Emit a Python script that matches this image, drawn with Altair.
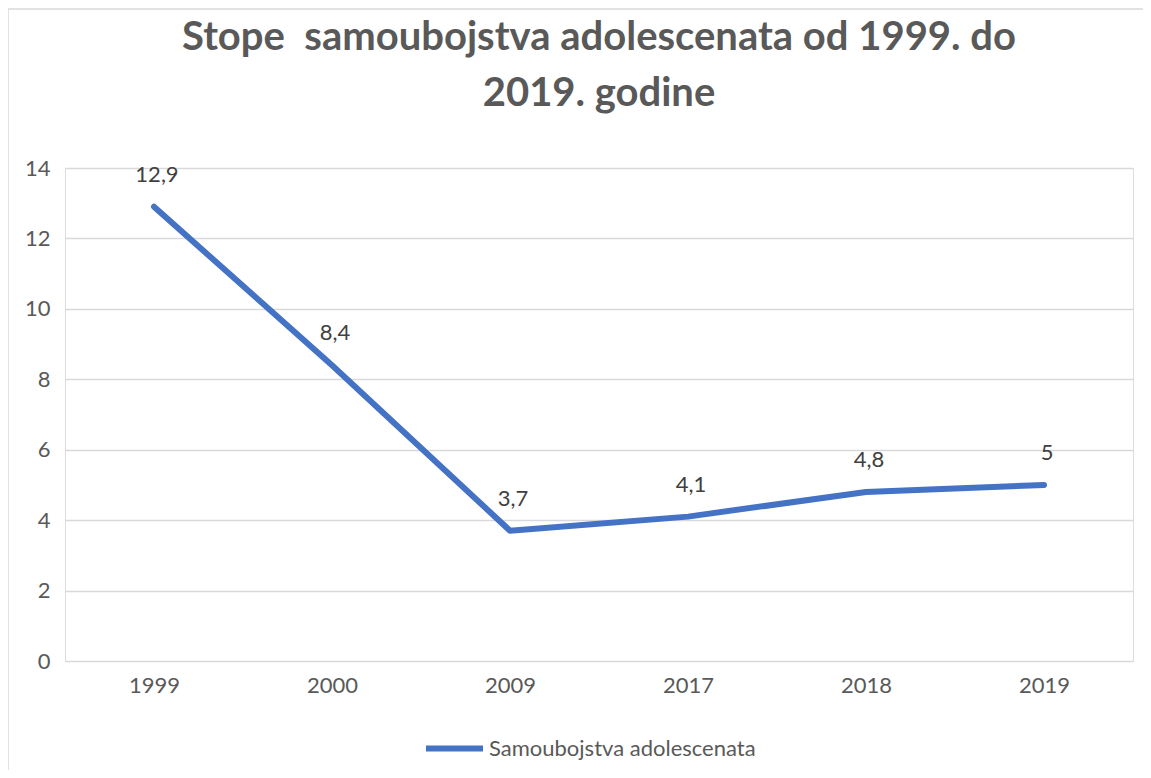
import altair as alt
import pandas as pd

years = ["1999", "2000", "2009", "2017", "2018", "2019"]
rates = [12.9, 8.4, 3.7, 4.1, 4.8, 5.0]
labels = ["12,9", "8,4", "3,7", "4,1", "4,8", "5"]
series_name = "Samoubojstva adolescenata"
title_lines = ["Stope\u00a0 samoubojstva adolescenata od 1999. do", "2019. godine"]

df = pd.DataFrame({"godina": years, "stopa": rates, "oznaka": labels, "serija": [series_name] * len(years)})

FONT = "Lato"
W, H = 1068, 493
FS = 22

x = alt.X("godina:N", sort=years, title=None,
          scale=alt.Scale(type="point", padding=0.5),
          axis=alt.Axis(labelAngle=0, labelFontSize=FS, labelColor="#595959", labelFont=FONT,
                        ticks=False, domain=False, labelPadding=14, grid=False))
y = alt.Y("stopa:Q", title=None,
          scale=alt.Scale(domain=[0, 14], nice=False),
          axis=alt.Axis(values=[0, 2, 4, 6, 8, 10, 12, 14], labelFontSize=FS, labelColor="#595959",
                        labelFont=FONT, ticks=False, domain=False, labelPadding=15,
                        gridColor="#d9d9d9", gridWidth=1.3))

base = alt.Chart(df)

line = base.mark_line(strokeWidth=6, strokeCap="round", strokeJoin="round").encode(
    x=x, y=y,
    color=alt.Color("serija:N", scale=alt.Scale(range=["#4472C4"]),
                    legend=alt.Legend(title=None, orient="none", legendX=358, legendY=549,
                                      symbolType="stroke", symbolSize=3249, symbolStrokeWidth=6,
                                      labelFontSize=FS, labelColor="#595959", labelFont=FONT,
                                      labelOffset=3, labelLimit=0))
)

text = base.mark_text(dy=-32, dx=3, fontSize=FS, color="#404040", font=FONT, baseline="middle").encode(
    x=x, y=y, text="oznaka:N"
)

one = alt.Data(values=[{}])
frame_left = alt.Chart(one).mark_rule(stroke="#d9d9d9", strokeWidth=1.5).encode(
    x=alt.value(-57), y=alt.value(-159), y2=alt.value(H + 109)
)
frame_top = alt.Chart(one).mark_rule(stroke="#d9d9d9", strokeWidth=1.5).encode(
    x=alt.value(-57), x2=alt.value(W + 10), y=alt.value(-159)
)

chart = alt.layer(frame_left, frame_top, line, text).properties(
    width=W, height=H,
    title=alt.Title(title_lines, fontSize=40, font=FONT, fontWeight="bold", color="#595959",
                    anchor="middle", frame="group", lineHeight=56, offset=-106),
    autosize=alt.AutoSizeParams(type="none"),
    padding={"left": 57, "top": 160, "right": 10, "bottom": 109},
).configure_view(stroke=None).configure(background="white")

chart.save("out.html", embed_options={"renderer": "svg", "actions": False})
